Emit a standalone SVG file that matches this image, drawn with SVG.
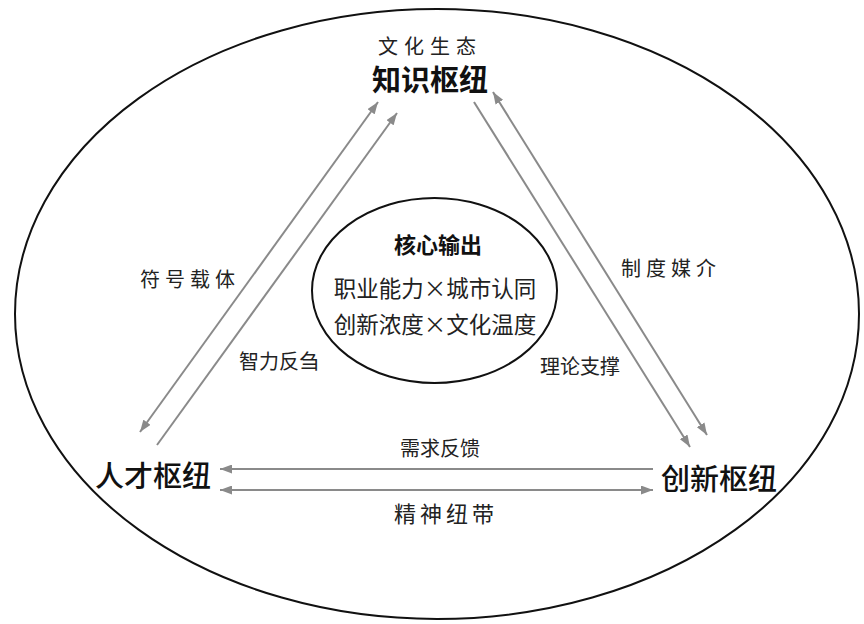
<svg xmlns="http://www.w3.org/2000/svg" width="864" height="624" viewBox="0 0 864 624">
<style>
  .frame{fill:none;stroke:#111;stroke-width:2}
  .conn{stroke:#8a8a8a;stroke-width:2;fill:none}
  text{font-family:"Noto Sans CJK SC","Noto Sans",sans-serif;fill:#111;text-anchor:middle;dominant-baseline:central}
  .hub{font-size:29px;font-weight:500}
  .hubb{font-size:29px;font-weight:bold}
  .lbl{font-size:20px;letter-spacing:5px;fill:#222}
  .lbl2{font-size:20px;fill:#222}
  .core{font-size:22.5px;fill:#222}
  .coreb{font-size:22px;font-weight:bold}
</style>
<defs>
  <marker id="ah" viewBox="0 0 12 9" refX="12" refY="4.5" markerUnits="userSpaceOnUse" markerWidth="12" markerHeight="9" orient="auto-start-reverse">
    <path d="M0,0 L12,4.5 L0,9 z" fill="#8a8a8a"/>
  </marker>
</defs>
<rect width="864" height="624" fill="#fff"/>
<ellipse class="frame" cx="437" cy="314" rx="422" ry="305"/>
<g id="connectors">
  <line class="conn" x1="140" y1="432" x2="378" y2="102" marker-start="url(#ah)" marker-end="url(#ah)"/>
  <line class="conn" x1="157" y1="445" x2="397" y2="113" marker-end="url(#ah)"/>
  <line class="conn" x1="474" y1="102" x2="690" y2="447" marker-end="url(#ah)"/>
  <line class="conn" x1="493" y1="92" x2="707" y2="435" marker-start="url(#ah)" marker-end="url(#ah)"/>
  <line class="conn" x1="653" y1="469" x2="220" y2="469" marker-end="url(#ah)"/>
  <line class="conn" x1="220" y1="490" x2="653" y2="490" marker-start="url(#ah)" marker-end="url(#ah)"/>
  <text class="lbl" x="190" y="278">符号载体</text>
  <text class="lbl2" x="279" y="360">智力反刍</text>
  <text class="lbl" x="671" y="267">制度媒介</text>
  <text class="lbl2" x="580" y="365">理论支撑</text>
  <text class="lbl2" x="440" y="447">需求反馈</text>
  <text class="lbl" x="446" y="512" style="font-size:22px;letter-spacing:4px">精神纽带</text>
</g>
<g id="knowledge-hub">
  <text class="lbl" x="430" y="45" style="letter-spacing:6px">文化生态</text>
  <text class="hubb" x="430" y="78">知识枢纽</text>
</g>
<g id="talent-hub">
  <text class="hub" x="153" y="474">人才枢纽</text>
</g>
<g id="innovation-hub">
  <text class="hub" x="719" y="477">创新枢纽</text>
</g>
<g id="core-output">
  <ellipse class="frame" cx="434.5" cy="290.5" rx="122.5" ry="92.5"/>
  <text class="coreb" x="438" y="243">核心输出</text>
  <text class="core" x="435" y="287">职业能力×城市认同</text>
  <text class="core" x="435" y="323">创新浓度×文化温度</text>
</g>
</svg>
